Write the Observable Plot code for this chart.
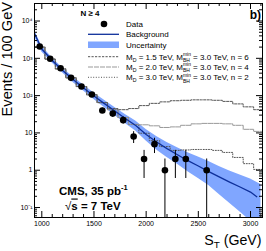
<!DOCTYPE html>
<html><head><meta charset="utf-8">
<script src="https://cdn.jsdelivr.net/npm/d3@7"></script>
<script src="https://cdn.jsdelivr.net/npm/@observablehq/plot@0.6"></script>
<style>body{margin:0;background:#fff}svg{display:block}</style>
</head><body><div id="chart"></div>
<script>
// ---- data ----
const dataST     = [980,1080,1180,1280,1380,1480,1580,1680,1780,1880,1980,2080,2180,2280,2380,2580];
const dataCounts = [2070,970,543,300,175,107,40,33,22,8,2,5,1,2,2,1];
const dataErr    = [45.5,31.1,23.3,17.3,13.2,10.3,6.3,5.7,4.7,2.8,1.4,2.2,1,1.4,1.4,1];

const bkgST  = [930,1000,1100,1200,1300,1400,1500,1600,1700,1800,1900,2000,2100,2200,2300,2400,2500,2600,2700,2800,2900,3000,3060];
const bkgVal = [4620,1775,873,471,270,160,97.5,61,38.6,24.3,15.8,9.1,5.7,3.8,2.6,1.8,1.3,0.92,0.66,0.48,0.355,0.26,0.195];

const bandST = [930,1000,1100,1200,1300,1400,1500,1600,1700,1800,1900,2000,2100,2200,2300,2400,2500,2600,2700,2800,2900,3000,3100];
const bandHi = [5560,2140,1020,550,315,193,117,75.7,47.9,31.1,20.9,12.4,8.0,5.5,4.0,2.95,2.27,1.71,1.26,0.947,0.745,0.58,0.413];
const bandLo = [3840,1475,748,404,224,133,78.6,47.7,29.2,17.8,11.25,6.09,3.48,2.18,1.446,0.913,0.60,0.388,0.224,0.131,0.0759,0.0434,0.0227];

const binST = [980,1080,1180,1280,1380,1480,1580,1680,1780,1880,1980,2080,2180,2280,2380,2480,2580,2680,2780,2880,2980,3080];
const sigN6 = [2000,950,520,300,175,105,65,45,42,45,54,62,68,73,75,77,77,75,70,60,50,42];
const sigN4 = [2000,950,520,300,175,105,65,42,26,17,16.5,15.5,14,14.5,16,17.5,18,18,17.5,16,12.5,11];
const sigN2 = [2000,950,520,300,175,105,65,42,26,16.8,9.8,6.2,4.3,3.4,3.5,3.6,3.6,3.4,3.0,2.2,1.5,1.05];

const xTickLabels = [1000,1500,2000,2500,3000];
const yTickLabels = [0.1,1,10,100,1000,10000];
const yTickText   = ["10\u207B\u00B9","1","10","10\u00B2","10\u00B3","10\u2074"];

const legendLabels = ["Data","Background","Uncertainty"];
// ---- layout ----
const W = 266, H = 251, mT = 3, mB = 34, mL = 34, mR = 4;
const innerW = W - mL - mR, innerH = H - mT - mB;
const yMin = 0.054, yMax = 29500;
const FONT = "'Liberation Sans', Arial, Helvetica, sans-serif";

const pts = dataST.map((x,i)=>({x, y:dataCounts[i], lo:Math.max(dataCounts[i]-dataErr[i], yMin), hi:dataCounts[i]+dataErr[i]}));
const bkg = bkgST.map((x,i)=>({x, y:bkgVal[i]}));
const band = bandST.map((x,i)=>({x, lo:bandLo[i], hi:bandHi[i]}));
function steps(vals){
  const out = binST.map((c,i)=>({x:c-50, y:vals[i]}));
  out.push({x:binST[binST.length-1]+50, y:vals[vals.length-1]});
  return out;
}
const xMinor = d3.range(1000, 3101, 100).filter(v => v % 500 !== 0);
const yMinor = [];
for (let e=-2;e<=4;e++) for (let k=2;k<=9;k++){const v=k*Math.pow(10,e); if(v>yMin && v<yMax) yMinor.push(v);}

const sig6Style = {stroke:"#555", strokeDasharray:"2.2,1.3", strokeWidth:1};
const sig4Style = {stroke:"#999", strokeDasharray:"5,1", strokeWidth:1};
const sig2Style = {stroke:"#555", strokeDasharray:"1,1.6", strokeWidth:1};
const bandColor = "#80a6ff", lineColor = "#0d2f9a";

const plot = Plot.plot({
  width: W, height: H, marginTop: mT, marginBottom: mB, marginLeft: mL, marginRight: mR,
  style: {fontFamily: FONT, background: "white", color: "black"},
  x: {domain: [930, 3115]},
  y: {type: "log", domain: [yMin, yMax]},
  marks: [
    Plot.areaY(band, {x:"x", y1:"lo", y2:"hi", fill: bandColor, clip:true}),
    Plot.line(steps(sigN2), {x:"x", y:"y", curve:"step-after", ...sig2Style, clip:true}),
    Plot.line(steps(sigN4), {x:"x", y:"y", curve:"step-after", ...sig4Style, clip:true}),
    Plot.line(steps(sigN6), {x:"x", y:"y", curve:"step-after", ...sig6Style, clip:true}),
    Plot.line(bkg, {x:"x", y:"y", stroke: lineColor, strokeWidth: 1.3, clip:true}),
    Plot.ruleX(pts, {x:"x", y1:"lo", y2:"hi", stroke:"black", strokeWidth:1, clip:true}),
    Plot.dot(pts, {x:"x", y:"y", r:3.3, fill:"black", stroke:null}),
    // inside ticks (ROOT style)
    Plot.tickX(xTickLabels, {x:d=>d, insetTop: innerH-6, stroke:"black"}),
    Plot.tickX(xTickLabels, {x:d=>d, insetBottom: innerH-6, stroke:"black"}),
    Plot.tickX(xMinor, {x:d=>d, insetTop: innerH-3, stroke:"black"}),
    Plot.tickX(xMinor, {x:d=>d, insetBottom: innerH-3, stroke:"black"}),
    Plot.tickY(yTickLabels, {y:d=>d, insetRight: innerW-6, stroke:"black"}),
    Plot.tickY(yTickLabels, {y:d=>d, insetLeft: innerW-6, stroke:"black"}),
    Plot.tickY(yMinor, {y:d=>d, insetRight: innerW-3, stroke:"black"}),
    Plot.tickY(yMinor, {y:d=>d, insetLeft: innerW-3, stroke:"black"}),
    Plot.axisX({ticks: xTickLabels, tickSize: 0, tickPadding: 3.5, fontSize: 7, label: null, tickFormat: d => String(d)}),
    Plot.axisY({ticks: yTickLabels, tickSize: 0, tickPadding: 2, fontSize: 7, label: null,
                tickFormat: d => yTickText[yTickLabels.indexOf(d)]}),
    Plot.frame({stroke:"black"})
  ]
});
document.getElementById("chart").appendChild(plot);

const svg = d3.select(plot);
const g = svg.append("g").attr("font-family", FONT).attr("fill", "black").attr("text-anchor", "start");

// helper: sequential rich text
function rich(x, y, parts, size, weight){
  let cx = x;
  for (const p of parts){
    if (p.stack){
      const s = size*0.62;
      const a = g.append("text").attr("x", cx).attr("y", y - size*0.45).attr("font-size", s).attr("font-weight", weight||null).text(p.stack[0]);
      const b = g.append("text").attr("x", cx).attr("y", y + size*0.3).attr("font-size", s).attr("font-weight", weight||null).text(p.stack[1]);
      cx += Math.max(a.node().getComputedTextLength(), b.node().getComputedTextLength());
    } else {
      const s = p.sub || p.sup ? size*0.65 : size;
      const dy = p.sub ? size*0.25 : p.sup ? -size*0.42 : 0;
      const t = g.append("text").attr("x", cx).attr("y", y + dy).attr("font-size", s).attr("font-weight", p.w || weight || null).text(p.t);
      if (p.over) t.attr("text-decoration", "overline");
      cx += t.node().getComputedTextLength();
    }
  }
}

// axis titles
g.append("text").attr("transform", "translate(12,2) rotate(-90)").attr("text-anchor","end")
  .attr("font-size", 14.6).text("Events / 100 GeV");
(function(){
  const size = 14.2, y = 244.5;
  const t = g.append("text").attr("y", y).attr("font-size", size);
  t.append("tspan").text("S");
  t.append("tspan").attr("font-size", size*0.7).attr("dy", size*0.25).text("T");
  t.append("tspan").attr("dy", -size*0.25).text(" (GeV)");
  const w = t.node().getComputedTextLength();
  t.attr("x", 261.5 - w);
})();

// legend
g.append("text").attr("x", 90).attr("y", 16).attr("text-anchor","middle").attr("font-size", 8).attr("font-weight","bold").text("N \u2265 4");
const lx0 = 88, lx1 = 119, tx = 126;
g.append("circle").attr("cx", 104).attr("cy", 24).attr("r", 3.3);
g.append("text").attr("x", tx).attr("y", 27).attr("font-size", 8).text(legendLabels[0]);
g.append("line").attr("x1", lx0).attr("x2", lx1).attr("y1", 34.3).attr("y2", 34.3).attr("stroke", lineColor).attr("stroke-width", 1.3);
g.append("text").attr("x", tx).attr("y", 37).attr("font-size", 8).text(legendLabels[1]);
g.append("rect").attr("x", lx0).attr("y", 41.5).attr("width", lx1-lx0).attr("height", 6.5).attr("fill", bandColor);
g.append("text").attr("x", tx).attr("y", 47.5).attr("font-size", 8).text(legendLabels[2]);
const sigRows = [
  {y:56.7, md:"1.5", n:"6", st:sig6Style},
  {y:67, md:"2.0", n:"4", st:sig4Style},
  {y:77.3, md:"3.0", n:"2", st:sig2Style}
];
for (const r of sigRows){
  g.append("line").attr("x1", lx0).attr("x2", lx1).attr("y1", r.y).attr("y2", r.y)
    .attr("stroke", r.st.stroke).attr("stroke-dasharray", r.st.strokeDasharray).attr("stroke-width", 1);
  rich(tx, r.y + 2.8, [{t:"M"},{t:"D",sub:true},{t:` = ${r.md} TeV, M`},{stack:["min","BH"]},{t:` = 3.0 TeV, n = ${r.n}`}], 8);
}
// labels
g.append("text").attr("x", 261).attr("y", 18.5).attr("text-anchor","end").attr("font-size", 12).attr("font-weight","bold").text("b)");
rich(59, 194.5, [{t:"CMS, 35 pb"},{t:"-1",sup:true}], 11.5, "bold");
rich(65, 209.5, [{t:"\u221A", w:"normal"},{t:"s", over:true},{t:" = 7 TeV"}], 11.5, "bold");
</script>
</body></html>
